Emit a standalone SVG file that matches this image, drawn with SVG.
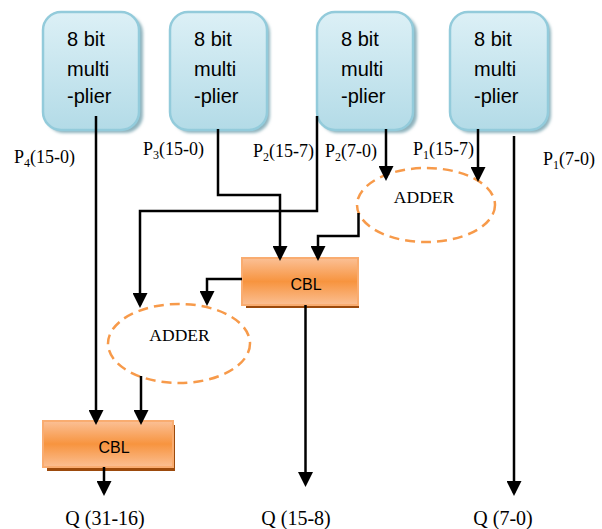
<svg xmlns="http://www.w3.org/2000/svg" width="602" height="529" viewBox="0 0 602 529">
<defs>
<linearGradient id="gBlue" x1="0" y1="0" x2="0" y2="1">
<stop offset="0" stop-color="#dcf0f6"/>
<stop offset="1" stop-color="#b3dbe7"/>
</linearGradient>
<linearGradient id="gOrange" x1="0" y1="0" x2="0" y2="1">
<stop offset="0" stop-color="#fbc096"/>
<stop offset="0.5" stop-color="#f7943f"/>
<stop offset="1" stop-color="#fbbf93"/>
</linearGradient>
<filter id="blur" x="-10%" y="-10%" width="130%" height="130%">
<feGaussianBlur stdDeviation="1.5"/>
</filter>
<marker id="arr" viewBox="0 0 15 15" markerWidth="15" markerHeight="15" refX="12" refY="7.5" orient="auto" markerUnits="userSpaceOnUse">
<path d="M0,0 L15,7.5 L0,15 z" fill="#000"/>
</marker>
</defs>
<style>
.mshadow{fill:#8fb3bd;filter:url(#blur)}
.mbox{fill:url(#gBlue);stroke:#93cbdb;stroke-width:2.5}
.mtxt{font-family:"Liberation Sans",Arial,sans-serif;font-size:20px;fill:#000}
.cshadow{fill:#9c4a0c}
.cbox{fill:url(#gOrange);stroke:#f9ac70;stroke-width:2}
.ctxt{font-family:"Liberation Sans",Arial,sans-serif;font-size:16px;fill:#000;text-anchor:middle}
.add{fill:none;stroke:#f79a4a;stroke-width:2.5;stroke-dasharray:10 6}
.atxt{font-family:"Liberation Serif","Times New Roman",serif;font-size:17.5px;fill:#000;text-anchor:middle}
.lbl{font-family:"Liberation Serif","Times New Roman",serif;font-size:18px;fill:#000}
.sub{font-size:12px}
.q{font-family:"Liberation Serif","Times New Roman",serif;font-size:20px;fill:#000;text-anchor:middle}
.w{fill:none;stroke:#000;stroke-width:2.5}
.wa{fill:none;stroke:#000;stroke-width:2.5;marker-end:url(#arr)}
</style>

<g id="mult4">
<rect class="mshadow" x="46" y="15" width="97" height="118" rx="18"/>
<rect class="mbox" x="43" y="12" width="96" height="118" rx="18"/>
<text class="mtxt" x="67" y="46">8 bit</text>
<text class="mtxt" x="67" y="76">multi</text>
<text class="mtxt" x="67" y="103">-plier</text>
</g>
<g id="mult3">
<rect class="mshadow" x="173" y="15" width="97" height="118" rx="18"/>
<rect class="mbox" x="170" y="12" width="97" height="118" rx="18"/>
<text class="mtxt" x="194" y="46">8 bit</text>
<text class="mtxt" x="194" y="76">multi</text>
<text class="mtxt" x="194" y="103">-plier</text>
</g>
<g id="mult2">
<rect class="mshadow" x="320" y="15" width="97" height="118" rx="18"/>
<rect class="mbox" x="317" y="12" width="96" height="118" rx="18"/>
<text class="mtxt" x="341" y="46">8 bit</text>
<text class="mtxt" x="341" y="76">multi</text>
<text class="mtxt" x="341" y="103">-plier</text>
</g>
<g id="mult1">
<rect class="mshadow" x="453" y="15" width="98" height="118" rx="18"/>
<rect class="mbox" x="450" y="12" width="98" height="118" rx="18"/>
<text class="mtxt" x="474" y="46">8 bit</text>
<text class="mtxt" x="474" y="76">multi</text>
<text class="mtxt" x="474" y="103">-plier</text>
</g>

<g id="adder1">
<ellipse class="add" cx="426" cy="205" rx="69" ry="37"/>
<text class="atxt" x="424" y="203">ADDER</text>
</g>
<g id="adder2">
<ellipse class="add" cx="179" cy="343.5" rx="71" ry="39.5"/>
<text class="atxt" x="179.5" y="341">ADDER</text>
</g>

<g id="cbl2">
<rect class="cshadow" x="246" y="262" width="113" height="46"/>
<rect class="cbox" x="242" y="258" width="116" height="47"/>
<text class="ctxt" x="306" y="290">CBL</text>
</g>
<g id="cbl1">
<rect class="cshadow" x="47" y="425" width="128" height="46"/>
<rect class="cbox" x="43" y="421" width="130" height="46"/>
<text class="ctxt" x="114" y="453">CBL</text>
</g>

<g id="connectors">
<path class="wa" d="M96,116 V422"/>
<path class="wa" d="M218,129 V195 H280 V258"/>
<path class="wa" d="M317,116 V211 H140 V305"/>
<path class="wa" d="M386,129 V178"/>
<path class="wa" d="M478,129 V179"/>
<path class="wa" d="M514,136 V493"/>
<path class="wa" d="M358.5,213 V236 H318 V258"/>
<path class="wa" d="M242,279 H207 V303"/>
<path class="wa" d="M305.5,305 V484"/>
<path class="wa" d="M141,376 V422"/>
<path class="wa" d="M104,467 V493"/>
</g>

<g id="labels">
<text class="lbl" x="14" y="163">P<tspan class="sub" dy="4">4</tspan><tspan dy="-4">(15-0)</tspan></text>
<text class="lbl" x="143" y="155">P<tspan class="sub" dy="4">3</tspan><tspan dy="-4">(15-0)</tspan></text>
<text class="lbl" x="253" y="157">P<tspan class="sub" dy="4">2</tspan><tspan dy="-4">(15-7)</tspan></text>
<text class="lbl" x="325" y="157">P<tspan class="sub" dy="4">2</tspan><tspan dy="-4">(7-0)</tspan></text>
<text class="lbl" x="413" y="155">P<tspan class="sub" dy="4">1</tspan><tspan dy="-4">(15-7)</tspan></text>
<text class="lbl" x="543" y="165">P<tspan class="sub" dy="4">1</tspan><tspan dy="-4">(7-0)</tspan></text>
<text class="q" x="105" y="525">Q (31-16)</text>
<text class="q" x="296" y="525">Q (15-8)</text>
<text class="q" x="503" y="525">Q (7-0)</text>
</g>
</svg>
